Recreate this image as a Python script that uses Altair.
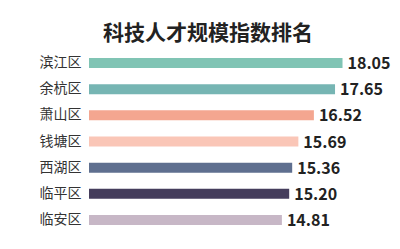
import altair as alt
import pandas as pd

districts = ["滨江区", "余杭区", "萧山区", "钱塘区", "西湖区", "临平区", "临安区"]
values = [18.05, 17.65, 16.52, 15.69, 15.36, 15.20, 14.81]
palette = ["#80c4b4", "#76b5b3", "#f4a690", "#fac6b7", "#5f6f8f", "#453d5c", "#c7b7c6"]

df = pd.DataFrame({"district": districts, "value": values})
df["label"] = df["value"].map(lambda v: f"{v:.2f}")

FONT = "Noto Sans CJK SC"

y = alt.Y("district:N", sort=districts, title=None,
          scale=alt.Scale(paddingInner=0.62, paddingOuter=0.31),
          axis=alt.Axis(ticks=False, domain=False, grid=False, labelPadding=8,
                        labelFont=FONT, labelFontSize=14, labelColor="#333333"))
x = alt.X("value:Q", title=None, axis=None,
          scale=alt.Scale(domain=[4.5, 20], zero=False, nice=False))

bars = alt.Chart(df).mark_bar(height=10).encode(
    x=x, x2=alt.datum(4.5), y=y,
    color=alt.Color("district:N", scale=alt.Scale(domain=districts, range=palette), legend=None),
)
texts = alt.Chart(df).mark_text(align="left", baseline="middle", dx=5, dy=1,
                                font=FONT, fontSize=16, fontWeight="bold",
                                color="#222222").encode(
    x=x, y=y, text="label:N")

chart = (bars + texts).properties(
    width=290, height=183,
    title=alt.TitleParams("科技人才规模指数排名", font=FONT, fontSize=21, fontWeight="bold",
                          color="#222222", anchor="middle", dx=-26, offset=6),
    autosize=alt.AutoSizeParams(type="none"),
    padding={"left": 89, "top": 50, "right": 21, "bottom": 16},
    background="white",
).configure_view(stroke=None)

chart.save("out.html", embed_options={"renderer": "svg", "actions": False})
